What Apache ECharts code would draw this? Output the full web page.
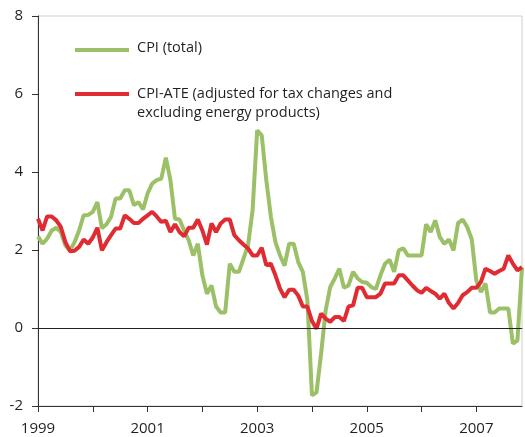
<!DOCTYPE html>
<html>
<head>
<meta charset="utf-8">
<script src="https://cdn.jsdelivr.net/npm/echarts@6/dist/echarts.min.js"></script>
<style>
  html, body { margin: 0; padding: 0; background: #fff; }
  #main { width: 525px; height: 437px; }
</style>
</head>
<body>
<div id="main"></div>
<script>
// monthly data, Jan 1999 - Nov 2007
const startYear = 1999;
const monthCount = 107;
const yearLabels = ['1999', '2001', '2003', '2005', '2007'];

const cpiTotal = [
  2.35, 2.16, 2.29, 2.5, 2.57, 2.46, 2.12, 1.99, 2.2, 2.5, 2.89, 2.9,
  2.98, 3.23, 2.56, 2.66, 2.85, 3.32, 3.32, 3.53, 3.53, 3.15, 3.23, 3.04,
  3.45, 3.7, 3.79, 3.83, 4.37, 3.79, 2.8, 2.78, 2.5, 2.25, 1.86, 2.16,
  1.35, 0.88, 1.09, 0.55, 0.4, 0.4, 1.65, 1.44, 1.44, 1.78, 2.12, 3.02,
  5.07, 4.94, 3.79, 2.85, 2.2, 1.86, 1.6, 2.16, 2.16, 1.69, 1.44, 0.71,
  -1.73, -1.65, -0.66, 0.45, 1.05, 1.27, 1.52, 1.03, 1.09, 1.44, 1.27, 1.18,
  1.16, 1.05, 1.0, 1.35, 1.65, 1.75, 1.44, 1.99, 2.04, 1.86, 1.86, 1.86,
  1.86, 2.66, 2.46, 2.76, 2.33, 2.16, 2.27, 1.99, 2.69, 2.78, 2.59, 2.27,
  1.22, 0.92, 1.14, 0.4, 0.4, 0.5, 0.5, 0.5, -0.4, -0.32, 1.55
];

const cpiAte = [
  2.8, 2.5, 2.86, 2.86, 2.76, 2.59, 2.2, 1.97, 1.98, 2.08, 2.27, 2.16,
  2.32, 2.57, 1.99, 2.2, 2.38, 2.55, 2.55, 2.89, 2.8, 2.69, 2.69, 2.8,
  2.89, 2.98, 2.86, 2.72, 2.75, 2.46, 2.66, 2.46, 2.35, 2.57, 2.57, 2.78,
  2.5, 2.14, 2.68, 2.46, 2.68, 2.78, 2.78, 2.38, 2.25, 2.14, 2.04, 1.86,
  1.86, 2.06, 1.61, 1.65, 1.35, 1.01, 0.79, 0.98, 0.98, 0.83, 0.55, 0.55,
  0.18, -0.02, 0.37, 0.24, 0.16, 0.28, 0.28, 0.18, 0.55, 0.58, 1.03, 1.03,
  0.79, 0.79, 0.79, 0.88, 1.14, 1.14, 1.14, 1.35, 1.35, 1.22, 1.09, 0.97,
  0.9, 1.03, 0.95, 0.88, 0.75, 0.88, 0.64, 0.5, 0.64, 0.84, 0.92, 1.03,
  1.03, 1.18, 1.52, 1.46, 1.39, 1.46, 1.52, 1.86, 1.65, 1.48, 1.56
];

const months = [];
for (let i = 0; i < monthCount; i++) {
  const y = startYear + Math.floor(i / 12);
  const m = (i % 12) + 1;
  months.push(y + '-' + (m < 10 ? '0' + m : m));
}

const green = '#9bc067';
const red = '#e12b32';
const txt = '#231f20';
const font = 'Open Sans';

let myChart = echarts.init(document.getElementById('main'));
myChart.setOption({
  animation: false,
  textStyle: { fontFamily: font },
  grid: {
    left: 38, right: 3, top: 16, bottom: 31,
    show: true, borderColor: '#cfcfcf', borderWidth: 1
  },
  xAxis: [
    {
      type: 'category',
      data: months,
      boundaryGap: false,
      axisLine: { onZero: false, lineStyle: { color: '#333', width: 1 } },
      axisTick: {
        interval: (idx) => idx % 12 === 0,
        length: 6,
        lineStyle: { color: '#333' }
      },
      axisLabel: {
        interval: (idx, val) => yearLabels.indexOf(val.slice(0, 4)) >= 0 && val.slice(5) === '01',
        formatter: (val) => val.slice(0, 4),
        color: txt, fontSize: 15, fontFamily: font, margin: 15
      },
      splitLine: { show: false }
    },
    {
      type: 'category',
      data: months,
      position: 'top',
      boundaryGap: false,
      axisLine: { lineStyle: { color: '#444', width: 1 } },
      axisTick: { show: false },
      axisLabel: { show: false }
    }
  ],
  yAxis: {
    type: 'value',
    min: -2, max: 8, interval: 2,
    axisLine: { show: true, lineStyle: { color: '#333', width: 1 } },
    axisTick: { show: true, length: 6, lineStyle: { color: '#333' } },
    axisLabel: { color: txt, fontSize: 15, fontFamily: font, margin: 15 },
    splitLine: { show: false }
  },
  graphic: [
    { type: 'line', shape: { x1: 75, y1: 50, x2: 129, y2: 50 }, style: { stroke: green, lineWidth: 4 } },
    { type: 'text', left: 137, top: 40, style: { text: 'CPI (total)', fill: txt, font: '14.5px "Open Sans"' } },
    { type: 'line', shape: { x1: 75, y1: 94, x2: 129, y2: 94 }, style: { stroke: red, lineWidth: 4 } },
    {
      type: 'text', left: 137, top: 84,
      style: {
        text: 'CPI-ATE (adjusted for tax changes and\nexcluding energy products)',
        fill: txt, font: '14.5px "Open Sans"', lineHeight: 19
      }
    }
  ],
  series: [
    {
      name: 'CPI (total)',
      type: 'line',
      data: cpiTotal,
      symbol: 'none',
      lineStyle: { color: green, width: 4 },
      markLine: {
        silent: true,
        symbol: 'none',
        label: { show: false },
        lineStyle: { color: '#222', width: 1, type: 'solid' },
        data: [{ yAxis: 0 }]
      },
      z: 2
    },
    {
      name: 'CPI-ATE',
      type: 'line',
      data: cpiAte,
      symbol: 'none',
      lineStyle: { color: red, width: 4 },
      z: 3
    }
  ]
});
</script>
</body>
</html>
